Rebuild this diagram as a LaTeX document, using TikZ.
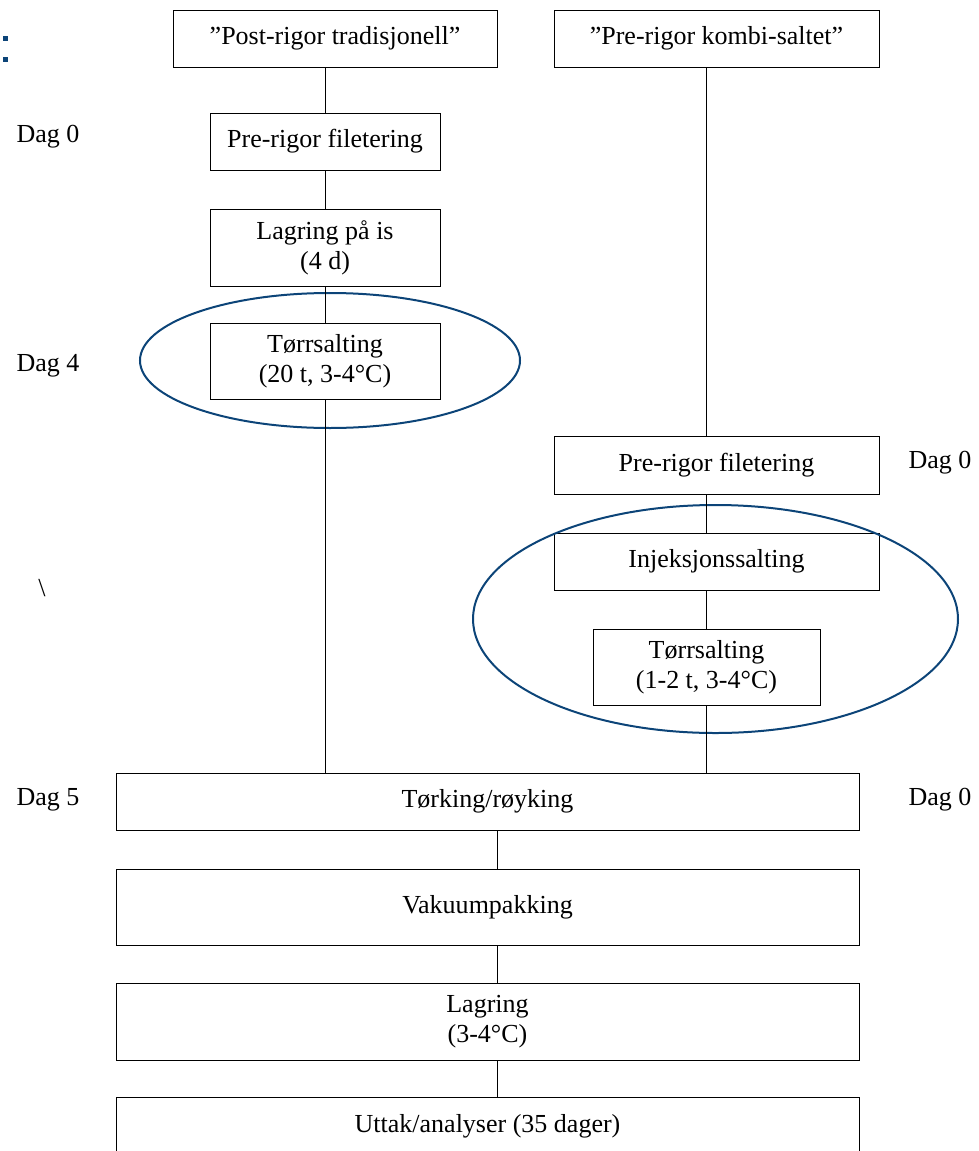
\documentclass[tikz,border=0pt]{standalone}
\usepackage{fontspec}
\setmainfont{Liberation Serif}
\definecolor{ellblue}{RGB}{12,68,120}
\begin{document}
\begin{tikzpicture}[x=1pt,y=-1pt,
  box/.style={draw=black, line width=0.9pt, inner sep=0pt, align=center, font=\fontsize{26}{30}\selectfont},
  lbl/.style={inner sep=0pt, font=\fontsize{26}{30}\selectfont},
  conn/.style={draw=black, line width=0.9pt},
  ring/.style={draw=ellblue, line width=2pt}]
\useasboundingbox (0,0) rectangle (979,1151);
\clip (0,0) rectangle (979,1151);
% top boxes
\node[box, minimum width=324pt, minimum height=57pt] (t1) at (335,38.5) {”Post-rigor tradisjonell”};
\node[box, minimum width=325pt, minimum height=57pt] (t2) at (716.5,38.5) {”Pre-rigor kombi-saltet”};
% left column
\node[box, minimum width=230pt, minimum height=57pt] (l1) at (325,141.5) {Pre-rigor filetering};
\node[box, minimum width=230pt, minimum height=77pt] (l2) at (325,247.5) {Lagring på is\\(4 d)};
\node[box, minimum width=230pt, minimum height=76pt] (l3) at (325,361) {Tørrsalting\\(20 t, 3-4°C)};
% right column
\node[box, minimum width=325pt, minimum height=58pt] (r1) at (716.5,465) {Pre-rigor filetering};
\node[box, minimum width=325pt, minimum height=57pt] (r2) at (716.5,561.5) {Injeksjonssalting};
\node[box, minimum width=227pt, minimum height=76pt] (r3) at (706.5,667) {Tørrsalting\\(1-2 t, 3-4°C)};
% common column
\node[box, minimum width=743pt, minimum height=57pt] (c1) at (487.5,801.5) {Tørking/røyking};
\node[box, minimum width=743pt, minimum height=76pt] (c2) at (487.5,907) {Vakuumpakking};
\node[box, minimum width=743pt, minimum height=77pt] (c3) at (487.5,1021.5) {Lagring\\(3-4°C)};
\node[box, minimum width=743pt, minimum height=58pt] (c4) at (487.5,1126) {Uttak/analyser (35 dager)};
% ellipses
\draw[ring] (330,360.5) ellipse [x radius=190pt, y radius=67.5pt];
\draw[ring] (715.5,619) ellipse [x radius=242.5pt, y radius=114pt];
% connectors
\draw[conn] (l1.north |- t1.south) -- (l1.north);
\draw[conn] (l1.south) -- (l2.north);
\draw[conn] (l2.south) -- (l3.north);
\draw[conn] (l3.south) -- (l3.south |- c1.north);
\draw[conn] (r3.north |- t2.south) -- (r3.north |- r1.north);
\draw[conn] (r3.north |- r1.south) -- (r3.north |- r2.north);
\draw[conn] (r3.north |- r2.south) -- (r3.north);
\draw[conn] (r3.south) -- (r3.south |- c1.north);
\coordinate (cx) at (497,0);
\draw[conn] (cx |- c1.south) -- (cx |- c2.north);
\draw[conn] (cx |- c2.south) -- (cx |- c3.north);
\draw[conn] (cx |- c3.south) -- (cx |- c4.north);
% labels
\node[lbl] (d1) at (48,137) {Dag 0};
\node[lbl] (d2) at (48,366) {Dag 4};
\node[lbl] (d3) at (48,800) {Dag 5};
\node[lbl] (d4) at (940,463) {Dag 0};
\node[lbl] (d5) at (940,800) {Dag 0};
\node[lbl] (bs) at (42,588) {\textbackslash};
% blue marks
\fill[ellblue] (3,36) rectangle (8,41);
\fill[ellblue] (3,57) rectangle (8,62);
\end{tikzpicture}
\end{document}
